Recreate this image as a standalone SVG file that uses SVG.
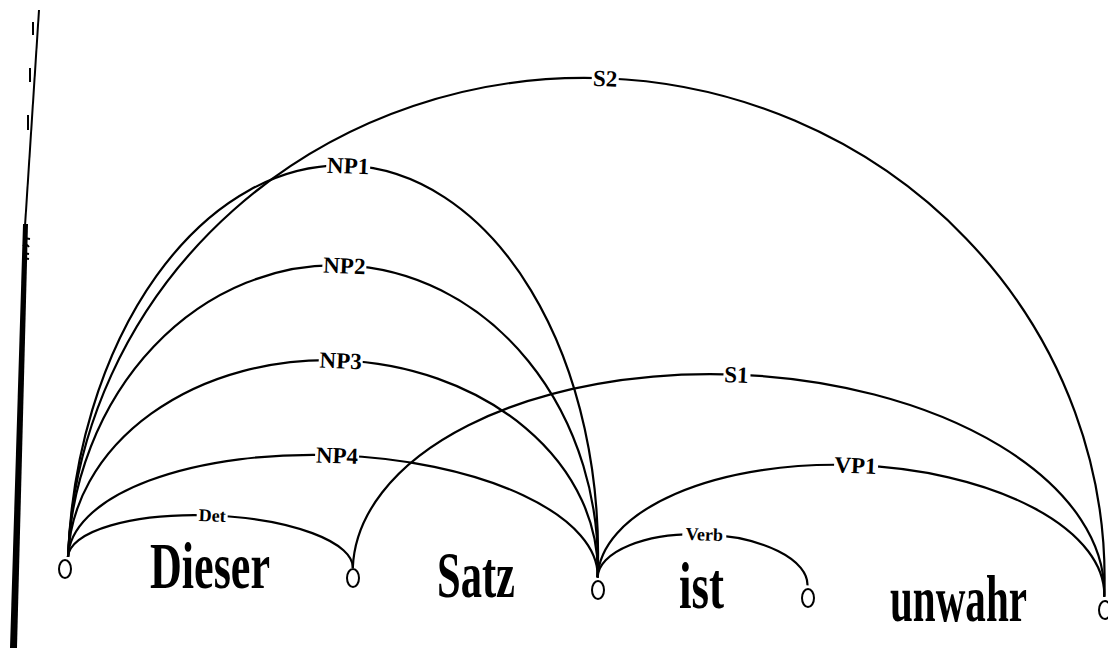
<svg xmlns="http://www.w3.org/2000/svg" width="1108" height="648" viewBox="0 0 1108 648">
<style>
.arc{fill:none;stroke:#000;stroke-width:2.2}
.node{fill:#fff;stroke:#000;stroke-width:2}
.bg{fill:#fff}
.lbl{font-family:"Liberation Serif",serif;font-weight:bold;font-size:23px;text-anchor:middle;fill:#000}
.sm{font-size:18px}
.word{font-family:"Liberation Serif",serif;font-weight:bold;font-size:66px;fill:#000}
.edge{fill:none;stroke:#000;stroke-width:2}
</style>
<rect width="1108" height="648" fill="#fff"/>
<g id="page-edge">
<path class="edge" d="M39,10 L25,226"/>
<polygon points="23,224 28,224 17,648 10,648" fill="#000"/>
<path class="edge" d="M33,22 L33,35 M30,68 L30,82 M28,115 L28,130"/>
<path class="edge" stroke-width="1.5" d="M24,238 L30,239 M23,246 Q26,243 29,247 M23,253 L29,254 M23,258 L29,259"/>
</g>
<g id="connectors" transform="rotate(2.2 68 557)">
<path id="e-S2" class="arc" d="M68,557 A518.5,499 0 0 1 1105,557"/>
<path id="e-NP1" class="arc" d="M68,557 A265,402 0 0 1 598,557"/>
<path id="e-NP2" class="arc" d="M68,557 A265,302 0 0 1 598,557"/>
<path id="e-NP3" class="arc" d="M68,557 A265,207 0 0 1 598,557"/>
<path id="e-NP4" class="arc" d="M68,557 A265,112 0 0 1 598,557"/>
<path id="e-Det" class="arc" d="M68,557 A142.5,47 0 0 1 353,557"/>
<path id="e-S1" class="arc" d="M353,557 A376,208 0 0 1 1105,557"/>
<path id="e-VP1" class="arc" d="M598,557 A253.5,122 0 0 1 1105,557"/>
<path id="e-Verb" class="arc" d="M598,557 A105,47 0 0 1 808,557"/>
<rect class="bg" x="573" y="50" width="27" height="17"/>
<rect class="bg" x="311" y="147" width="44" height="17"/>
<rect class="bg" x="311" y="247" width="44" height="17"/>
<rect class="bg" x="311" y="342" width="44" height="17"/>
<rect class="bg" x="311" y="437" width="44" height="17"/>
<rect class="bg" x="195" y="503" width="31" height="14"/>
<rect class="bg" x="716" y="341" width="27" height="17"/>
<rect class="bg" x="830" y="427" width="44" height="17"/>
<rect class="bg" x="681" y="503" width="44" height="14"/>
<text class="lbl" x="586.5" y="66">S2</text>
<text class="lbl" x="333" y="163">NP1</text>
<text class="lbl" x="333" y="263">NP2</text>
<text class="lbl" x="333" y="358">NP3</text>
<text class="lbl" x="333" y="453">NP4</text>
<text class="lbl sm" x="210.5" y="516">Det</text>
<text class="lbl" x="729" y="357">S1</text>
<text class="lbl" x="851.5" y="443">VP1</text>
<text class="lbl sm" x="703" y="516">Verb</text>
</g>
<g id="n0"><ellipse class="node" cx="65" cy="569" rx="6" ry="9"/><text class="word" x="150" y="588" textLength="120" lengthAdjust="spacingAndGlyphs">Dieser</text></g>
<g id="n1"><ellipse class="node" cx="353" cy="578" rx="6" ry="9"/><text class="word" x="437" y="597" textLength="78" lengthAdjust="spacingAndGlyphs">Satz</text></g>
<g id="n2"><ellipse class="node" cx="598" cy="590" rx="6" ry="9"/><text class="word" x="679" y="608" textLength="45" lengthAdjust="spacingAndGlyphs">ist</text></g>
<g id="n3"><ellipse class="node" cx="808" cy="598" rx="6" ry="9"/><text class="word" x="890" y="621" textLength="137" lengthAdjust="spacingAndGlyphs">unwahr</text></g>
<g id="n4"><ellipse class="node" cx="1105" cy="610" rx="6" ry="9"/></g>
</svg>
